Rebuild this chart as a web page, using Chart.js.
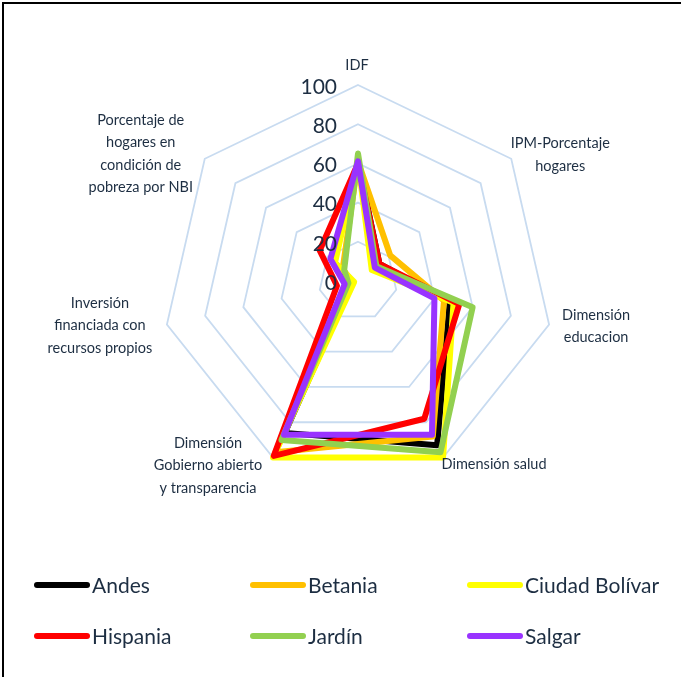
<!DOCTYPE html>
<html><head><meta charset="utf-8">
<script src="https://cdn.jsdelivr.net/npm/chart.js@4.4.1/dist/chart.umd.min.js"></script>
<style>
html,body{margin:0;padding:0;background:#fff;overflow:hidden;width:681px;height:677px;}
#wrap{position:relative;width:681px;height:677px;overflow:hidden;}
#frame{position:absolute;left:2px;top:2px;width:800px;height:800px;border:2px solid #000;box-sizing:border-box;pointer-events:none;}
canvas{position:absolute;left:0;top:0;}
</style></head><body>
<div id="wrap"><canvas id="c" width="681" height="677"></canvas><div id="frame"></div></div>
<script>
// ---- data ----
const categories = [
  ['IDF'],
  ['IPM-Porcentaje', 'hogares'],
  ['Dimensión', 'educacion'],
  ['Dimensión salud'],
  ['Dimensión', 'Gobierno abierto', 'y transparencia'],
  ['Inversión', 'financiada con', 'recursos propios'],
  ['Porcentaje de', 'hogares en', 'condición de', 'pobreza por NBI']
];
const seriesNames = ['Andes', 'Betania', 'Ciudad Bolívar', 'Hispania', 'Jardín', 'Salgar'];
const andes         = [61, 14, 48, 93, 86, 3, 16];
const betania       = [61, 21, 45, 88, 97, 3, 10];
const ciudadBolivar = [61, 9, 50, 100, 100, 2, 15];
const hispania      = [60, 14, 53, 78, 99, 11, 25];
const jardin        = [65, 12, 60, 97, 90, 5, 9];
const salgar        = [61, 11, 40, 87, 87, 7, 18];
const tickLabels = [0, 20, 40, 60, 80, 100];

// ---- styles ----
const seriesValues = [andes, betania, ciudadBolivar, hispania, jardin, salgar];
const seriesColors = ['#000000', '#FFC000', '#FFFF00', '#FF0000', '#92D050', '#9933FF'];
const TEXT = '#1d2e42';
const FONT = 'Lato, "Noto Sans", sans-serif';

// label placement relative to each outer vertex: [dx, dy, align]
const labelPlacement = [
  [-1, -20, 'center'],
  [49, -4, 'center'],
  [47, 2, 'center'],
  [51, 7, 'center'],
  [-65, 8, 'center'],
  [-67, 1, 'center'],
  [-64, -5, 'center']
];

const datasets = seriesNames.map((name, i) => ({
  label: name,
  data: seriesValues[i],
  borderColor: seriesColors[i],
  backgroundColor: seriesColors[i],
  fill: false,
  order: seriesNames.length - i,
  clip: false
}));

const decorPlugin = {
  id: 'decor',
  afterDatasetsDraw(chart) {
    const ctx = chart.ctx;
    const s = chart.scales.r;
    ctx.save();
    // tick labels
    ctx.font = '21px ' + FONT;
    ctx.fillStyle = TEXT;
    ctx.textAlign = 'right';
    ctx.textBaseline = 'middle';
    tickLabels.forEach(v => {
      const y = s.yCenter - s.getDistanceFromCenterForValue(v);
      ctx.fillText(String(v), s.xCenter - 21, y + 2);
    });
    // point labels
    ctx.font = '14.5px ' + FONT;
    const lh = 22.3;
    categories.forEach((lines, i) => {
      const p = s.getPointPosition(i, s.drawingArea);
      const [dx, dy, al] = labelPlacement[i];
      ctx.textAlign = al;
      const cy = p.y + dy;
      const y0 = cy - (lines.length - 1) * lh / 2;
      lines.forEach((t, k) => ctx.fillText(t, p.x + dx, y0 + k * lh));
    });
    // legend
    const colX = [34, 250, 467];
    const rowY = [585, 636];
    ctx.font = '21px ' + FONT;
    ctx.textAlign = 'left';
    ctx.lineCap = 'round';
    ctx.lineWidth = 6;
    chart.data.datasets.forEach((d, i) => {
      const x = colX[i % 3], y = rowY[Math.floor(i / 3)];
      ctx.strokeStyle = d.borderColor;
      ctx.beginPath();
      ctx.moveTo(x + 3, y);
      ctx.lineTo(x + 53, y);
      ctx.stroke();
      ctx.fillStyle = TEXT;
      ctx.fillText(d.label, x + 58, y + 1);
    });
    ctx.restore();
  }
};

new Chart(document.getElementById('c'), {
  type: 'radar',
  data: { labels: categories.map(l => l.join(' ')), datasets },
  plugins: [decorPlugin],
  options: {
    responsive: false,
    animation: false,
    layout: { padding: { left: 162, right: 127, top: 85, bottom: 200 } },
    elements: {
      line: { tension: 0, borderWidth: 6, borderJoinStyle: 'round', borderCapStyle: 'round' },
      point: { radius: 0, hoverRadius: 0 }
    },
    plugins: { legend: { display: false }, tooltip: { enabled: false } },
    scales: {
      r: {
        min: 0, max: 100,
        ticks: { display: false, stepSize: 20 },
        grid: { circular: false, color: '#C8DBF0', lineWidth: 1.8 },
        angleLines: { display: false },
        pointLabels: { display: false }
      }
    }
  }
});
</script>
</body></html>
